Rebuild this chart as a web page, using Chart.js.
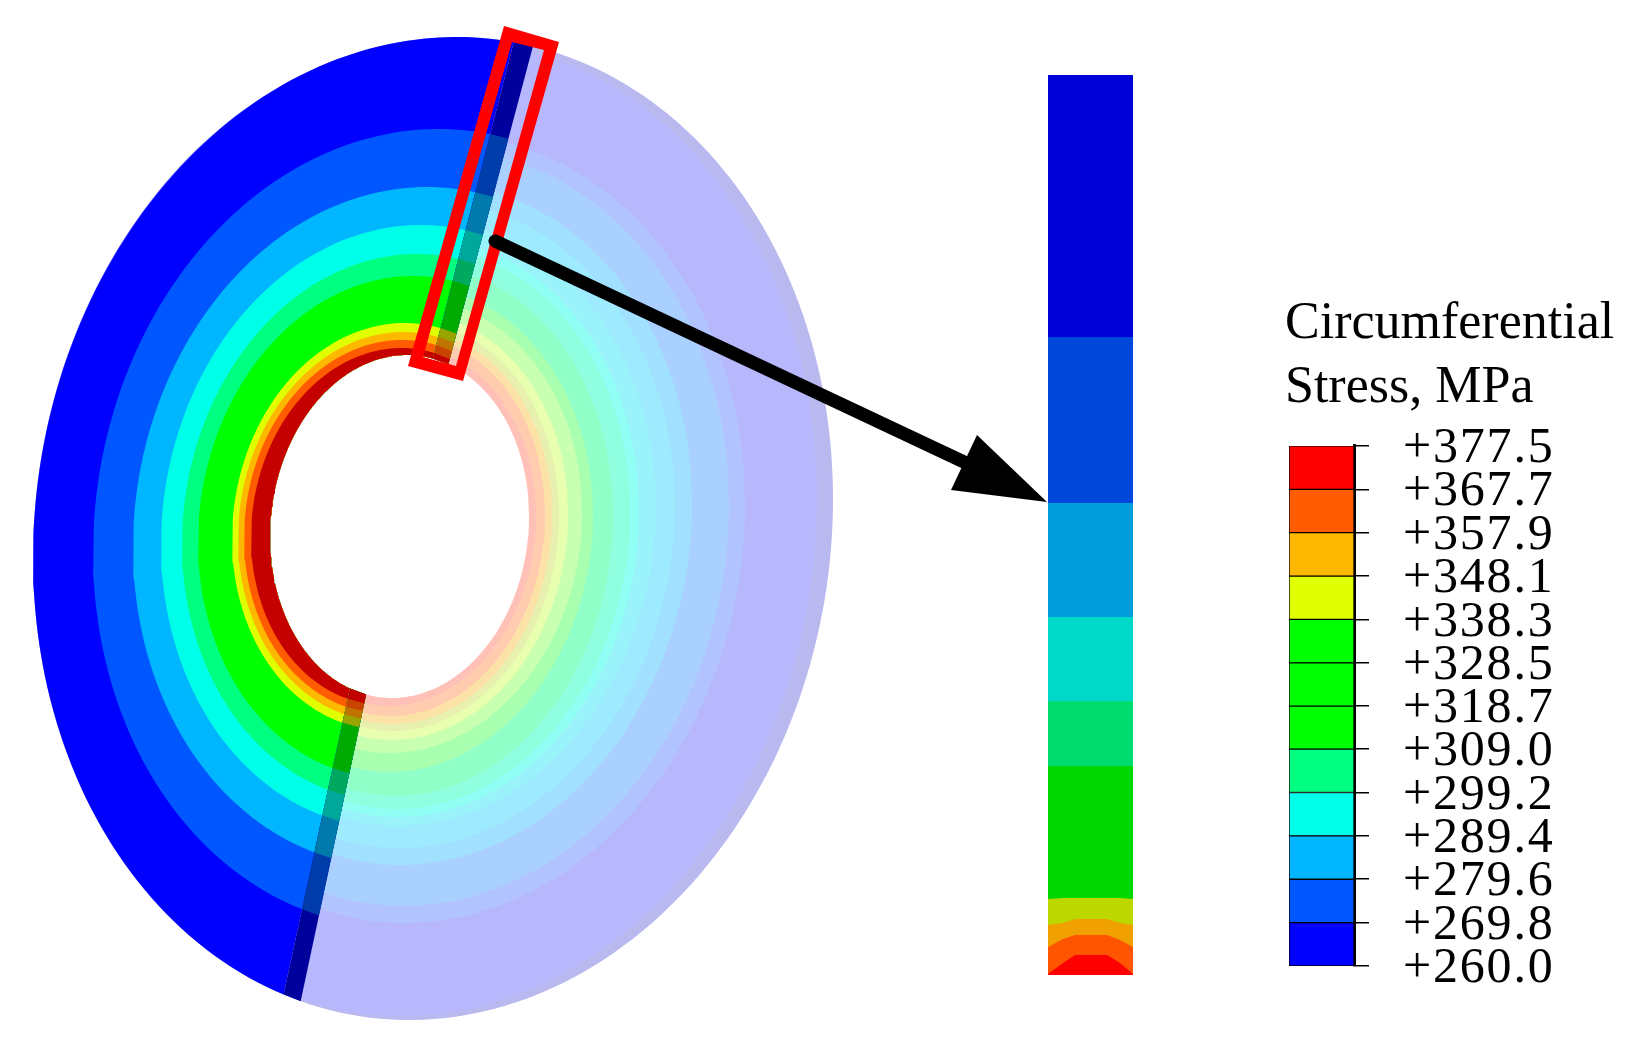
<!DOCTYPE html>
<html>
<head>
<meta charset="utf-8">
<title>Circumferential Stress</title>
<script src="https://cdn.jsdelivr.net/npm/chart.js@4/dist/chart.umd.min.js"></script>
<style>
  html, body { margin: 0; padding: 0; background: #fff; }
  #page { position: relative; width: 1638px; height: 1055px; overflow: hidden; }
  #diskChart { position: absolute; left: 0; top: 0; }
  #legendChart { position: absolute; left: 1283px; top: 292px; }
</style>
</head>
<body>
<div id="page">
  <canvas id="diskChart" width="1638" height="1055"></canvas>
  <canvas id="legendChart" width="355" height="738"></canvas>
</div>
<script>
// legend
const stressLevels = [260.0, 269.8, 279.6, 289.4, 299.2, 309.0, 318.7, 328.5, 338.3, 348.1, 357.9, 367.7, 377.5];
const legendColors = ['#0000ff', '#0057ff', '#00b7ff', '#00ffe8', '#00ff80', '#00ff00', '#00ff00', '#00ff00', '#e0ff00', '#ffb800', '#ff5b00', '#ff0000'];
const legendTitle = ['Circumferential', 'Stress, MPa'];

// contours on the cut-away part, outside in, the last one is the hole
const frontLeft = [33, 93, 133, 161, 182, 198, 232, 238, 244, 251, 270];
const frontRight = [833, 745, 688, 651, 625, 604, 558, 550, 542, 535, 529];
const frontTop = [37, 129, 187, 225, 254, 276, 323, 332, 340, 348, 355];
const frontBottom = [1020, 928, 867, 828, 801, 778, 730, 721, 713, 705, 698];
const frontColors = ['#0000ff', '#0057ff', '#00b7ff', '#00ffe8', '#00ff80', '#00ff00', '#e0ff00', '#ffb800', '#ff5b00', '#c40000'];
const stripColors = ['#00009c', '#003caa', '#007aaa', '#00a89c', '#00a860', '#00aa00', '#9aa400', '#c07400', '#c84400', '#c00000'];

// contours on the pale part, outside in
const paleLeft = [33, 33, 102, 115, 142, 156, 171, 184, 191, 204, 209, 219, 236, 246, 251, 255, 258];
const paleRight = [833, 817, 745, 729, 692, 675, 656, 639, 630, 613, 593, 582, 568, 559, 552, 545, 536];
const paleTop = [37, 40, 135, 150, 184, 202, 222, 240, 249, 267, 287, 299, 314, 323, 330, 337, 347];
const paleBottom = [1020, 1016, 923, 906, 865, 848, 826, 817, 809, 796, 772, 753, 740, 731, 724, 716, 706];
const paleColors = ['#b9b9ef', '#b7b7fd', '#b2c4ff', '#aad0ff', '#a2e0ff', '#9eeaff', '#9af2fa', '#90fff4', '#90ffe0', '#90ffc8', '#a8ffb0', '#c8ffb0', '#e8ffb0', '#e8f0b0', '#fde2a8', '#ffccb0', '#ffc0b8'];

// the two sections through the disc, each edge given by two points
const topCutA = [[513, 45], [435, 350]];
const topCutB = [[532, 50], [450, 358]];
const bottomCutA = [[349, 693], [283, 997]];
const bottomCutB = [[366, 695], [302, 995]];

// enlarged section
const insetX = [1048, 1063, 1075, 1090, 1107, 1120, 1133];
const insetEdges = [
  [75, 75, 75, 75, 75, 75, 75],
  [337, 337, 337, 337, 337, 337, 337],
  [503, 503, 503, 503, 503, 503, 503],
  [617, 617, 617, 617, 617, 617, 617],
  [701, 701, 701, 701, 701, 701, 701],
  [766, 766, 766, 766, 766, 766, 766],
  [899, 898, 898, 898, 898, 898, 899],
  [925, 923, 919, 919, 919, 923, 925],
  [947, 939, 935, 935, 935, 940, 947],
  [974, 963, 955, 955, 955, 963, 974]
];
const insetBottom = 975;
const insetColors = ['#0000d8', '#0048dc', '#009cdc', '#00d8c8', '#00dc70', '#00d800', '#bcd800', '#f0a000', '#ff5500', '#ff0000'];

// red frame and arrow
const frameOuter = [[504, 26], [559, 42], [463, 381], [408, 366]];
const frameInner = [[512, 42], [544, 50], [456, 366], [423, 357]];
const arrowShaft = [[495, 241], [964, 462]];
const arrowHead = [[977, 435], [1047, 502], [951, 490]];

const TILT = -0.06;

function ellipse(left, right, top, bottom) {
  return { cx: (left + right) / 2, cy: (top + bottom) / 2, rx: (right - left) / 2, ry: (bottom - top) / 2 };
}

function pointAt(e, t) {
  return { x: e.cx + e.rx * Math.cos(t), y: e.cy + e.ry * Math.sin(t + TILT) };
}

// angle where a cut line crosses the contour, upper or lower root
function crossing(e, cut, upper) {
  const a = cut[1][1] - cut[0][1];
  const b = cut[0][0] - cut[1][0];
  const c = a * cut[0][0] + b * cut[0][1];
  const P = a * e.rx + b * e.ry * Math.sin(TILT);
  const Q = b * e.ry * Math.cos(TILT);
  const R = c - a * e.cx - b * e.cy;
  const h = Math.hypot(P, Q);
  const phi = Math.atan2(Q, P);
  const d = Math.acos(Math.max(-1, Math.min(1, R / h)));
  for (const t of [phi + d, phi - d]) {
    const up = Math.sin(t + TILT) < 0;
    if (up === upper) return t;
  }
  return phi;
}

function norm(t, lo) {
  while (t < lo) t += Math.PI * 2;
  while (t >= lo + Math.PI * 2) t -= Math.PI * 2;
  return t;
}

// contour from the top cut round the left side to the bottom cut
function leftArc(e) {
  const t0 = norm(crossing(e, topCutA, true), Math.PI);
  const t1 = norm(crossing(e, bottomCutA, false), 0);
  const pts = [];
  for (let i = 0; i <= 120; i++) pts.push(pointAt(e, t0 + (t1 - t0) * i / 120));
  return pts;
}

function fullLoop(e) {
  const pts = [];
  for (let i = 0; i < 240; i++) pts.push(pointAt(e, Math.PI * 2 * i / 240));
  return pts;
}

function polygon(points, color) {
  return { data: points, backgroundColor: color, borderWidth: 0, pointRadius: 0, showLine: true, isShape: true };
}

function toPoints(list) {
  return list.map(p => ({ x: p[0], y: p[1] }));
}

const diskDatasets = [];

// pale part first
paleColors.forEach(function (color, i) {
  diskDatasets.push(polygon(fullLoop(ellipse(paleLeft[i], paleRight[i], paleTop[i], paleBottom[i])), color));
});

const last = frontLeft.length - 1;
const hole = ellipse(frontLeft[last], frontRight[last], frontTop[last], frontBottom[last]);
diskDatasets.push(polygon(fullLoop(hole), '#ffffff'));

// saturated part
frontColors.forEach(function (color, i) {
  const e = ellipse(frontLeft[i], frontRight[i], frontTop[i], frontBottom[i]);
  diskDatasets.push(polygon(leftArc(e).concat(leftArc(hole).reverse()), color));
});

// dark strips along the two sections
frontColors.forEach(function (color, i) {
  const e = ellipse(frontLeft[i], frontRight[i], frontTop[i], frontBottom[i]);
  diskDatasets.push(polygon([
    pointAt(e, crossing(e, topCutA, true)),
    pointAt(e, crossing(e, topCutB, true)),
    pointAt(hole, crossing(hole, topCutB, true)),
    pointAt(hole, crossing(hole, topCutA, true))
  ], stripColors[i]));
  diskDatasets.push(polygon([
    pointAt(e, crossing(e, bottomCutA, false)),
    pointAt(e, crossing(e, bottomCutB, false)),
    pointAt(hole, crossing(hole, bottomCutB, false)),
    pointAt(hole, crossing(hole, bottomCutA, false))
  ], stripColors[i]));
});

// enlarged section
insetColors.forEach(function (color, i) {
  const pts = insetX.map((x, j) => ({ x: x, y: insetEdges[i][j] }));
  pts.push({ x: insetX[insetX.length - 1], y: insetBottom }, { x: insetX[0], y: insetBottom });
  diskDatasets.push(polygon(pts, color));
});

// red frame as a ring, inner loop runs the other way round
const frameRing = frameOuter.concat([frameOuter[0], frameInner[0], frameInner[3], frameInner[2], frameInner[1], frameInner[0]]);
diskDatasets.push(polygon(toPoints(frameRing), '#ff0000'));

// arrow
diskDatasets.push({
  data: toPoints(arrowShaft), borderColor: '#000000', borderWidth: 13, borderCapStyle: 'round',
  pointRadius: 0, showLine: true, fill: false
});
diskDatasets.push(polygon(toPoints(arrowHead), '#000000'));

// first dataset is drawn on top, so the list goes back to front here
diskDatasets.reverse();

const shapeFill = {
  id: 'shapeFill',
  beforeDatasetDraw(chart, args) {
    const ds = chart.data.datasets[args.index];
    if (!ds.isShape) return;
    const ctx = chart.ctx;
    ctx.save();
    ctx.fillStyle = ds.backgroundColor;
    ctx.beginPath();
    args.meta.dataset.path(ctx);
    ctx.closePath();
    ctx.fill();
    ctx.restore();
  }
};

new Chart(document.getElementById('diskChart'), {
  type: 'scatter',
  data: { datasets: diskDatasets },
  plugins: [shapeFill],
  options: {
    responsive: false,
    animation: false,
    layout: { padding: 0 },
    plugins: { legend: { display: false }, tooltip: { enabled: false }, title: { display: false } },
    scales: {
      x: { type: 'linear', display: false, min: 0, max: 1638 },
      y: { type: 'linear', display: false, min: 0, max: 1055, reverse: true }
    }
  }
});

// tick labels are spaced wider and sit a bit lower, they draw after the datasets (z: 1)
const tickText = {
  id: 'tickText',
  afterDatasetsDraw(chart) {
    chart.ctx.save();
    chart.ctx.letterSpacing = '1.8px';
    chart.ctx.translate(0, 3);
  },
  afterDraw(chart) {
    chart.ctx.restore();
  }
};

new Chart(document.getElementById('legendChart'), {
  type: 'bar',
  data: {
    labels: ['Stress'],
    datasets: legendColors.map(function (color, i) {
      return {
        data: [[stressLevels[i], stressLevels[i + 1]]],
        yAxisID: 'y',
        xAxisID: 'x',
        backgroundColor: color,
        borderColor: '#000000',
        borderWidth: 1,
        borderSkipped: false,
        grouped: false,
        categoryPercentage: 1,
        barPercentage: 1
      };
    })
  },
  plugins: [tickText],
  options: {
    responsive: false,
    animation: false,
    layout: { padding: { left: 2, bottom: 30 } },
    plugins: {
      legend: { display: false },
      tooltip: { enabled: false },
      title: {
        display: true,
        text: legendTitle,
        align: 'start',
        color: '#000000',
        font: { family: 'Liberation Serif', size: 52, weight: 'normal', lineHeight: 1.23 },
        padding: { top: 0, bottom: 26 }
      }
    },
    scales: {
      x: { display: false },
      y: {
        position: 'right',
        min: 260,
        max: 377.5,
        afterBuildTicks: function (scale) {
          scale.ticks = stressLevels.map(v => ({ value: v }));
        },
        afterFit: function (scale) {
          scale.width = 284;
        },
        border: { display: true, color: '#000000', width: 3 },
        grid: { drawOnChartArea: false, color: '#000000', tickColor: '#000000', tickLength: 15, lineWidth: 1.5 },
        ticks: {
          autoSkip: false,
          padding: 34,
          z: 1,
          color: '#000000',
          minRotation: 0,
          maxRotation: 0,
          font: { family: 'Liberation Serif', size: 50 },
          callback: function (value) { return '+' + value.toFixed(1); }
        }
      },
      // empty axis, only keeps the bar a little to the right of the title
      gap: {
        type: 'linear',
        position: 'left',
        ticks: { display: false },
        grid: { display: false },
        border: { display: false },
        afterFit: function (scale) {
          scale.width = 4;
        }
      }
    }
  }
});
</script>
</body>
</html>
